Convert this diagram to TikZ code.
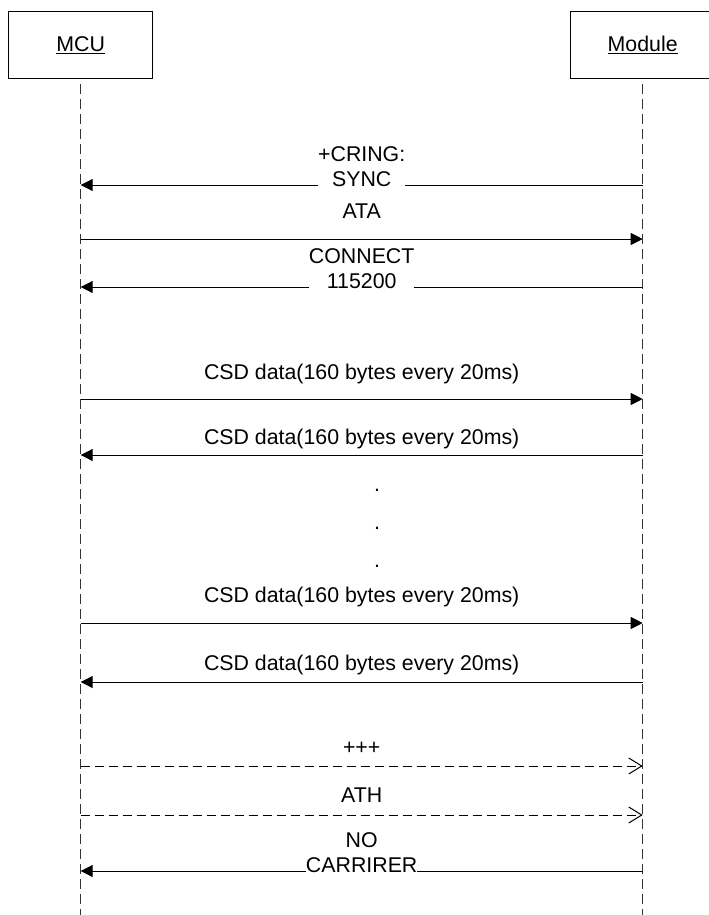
\documentclass[tikz,border=0pt]{standalone}
\usepackage{fontspec}
\setmainfont{Liberation Sans}
\usetikzlibrary{arrows.meta}

\begin{document}
\begin{tikzpicture}[x=0.75pt, y=-0.75pt, font=\fontsize{16}{19}\selectfont,
  obj/.style={draw, line width=0.75pt, minimum width=108pt, minimum height=50.5pt, inner sep=0pt},
  life/.style={draw=black!80, line width=0.75pt, dash pattern=on 7.5pt off 3.75pt, dash phase=7.5pt},
  sig/.style={-{Triangle[length=9pt,width=9pt]}, line width=0.75pt},
  brk/.style={-{Straight Barb[length=9.75pt,width=12pt]}, line width=0.75pt, dash pattern=on 7pt off 3.5pt},
  lbl/.style={anchor=base, inner sep=0pt},
  ovl/.style={anchor=south, align=center, inner sep=0pt, fill=white, text depth=0pt, yshift=-1.5pt}]
  \useasboundingbox (0,0) rectangle (708,915);
  \node[obj] (mcu) at (80.7,45)  {\underline{MCU}};
  \node[obj] (mod) at (642.7,45) {\underline{Module}};
  \coordinate (bot) at (0,915);
  \draw[life] (mcu.south) -- (mcu.south |- bot);
  \draw[life] (mod.south) -- (mod.south |- bot);
  % message levels on the MCU lifeline
  \coordinate (m1) at (80.7,185);
  \coordinate (m2) at (80.7,239);
  \coordinate (m3) at (80.7,287);
  \coordinate (m4) at (80.7,399);
  \coordinate (m5) at (80.7,455);
  \coordinate (m6) at (80.7,623);
  \coordinate (m7) at (80.7,682);
  \coordinate (m8) at (80.7,766);
  \coordinate (m9) at (80.7,815);
  \coordinate (m10) at (80.7,871);
  \draw[sig] (m1 -| mod) -- (m1) node[midway, ovl] (cring) {+CRING:\\SYNC};
  \draw[sig] (m2) -- (m2 -| mod) node[midway, lbl, yshift=15.4pt] (ata) {ATA};
  \draw[sig] (m3 -| mod) -- (m3) node[midway, ovl] (conn) {CONNECT\\115200};
  \draw[sig] (m4) -- (m4 -| mod) node[midway, lbl, yshift=15pt] (csdA) {CSD data(160 bytes every 20ms)};
  \draw[sig] (m5 -| mod) -- (m5) node[midway, lbl, yshift=8.25pt] (csdB) {CSD data(160 bytes every 20ms)};
  \foreach \k in {0,1,2}
    \node[lbl] (dot\k) at (377,491+38*\k) {.};
  \draw[sig] (m6) -- (m6 -| mod) node[midway, lbl, yshift=15.75pt] (csdC) {CSD data(160 bytes every 20ms)};
  \draw[sig] (m7 -| mod) -- (m7) node[midway, lbl, yshift=8.75pt] (csdD) {CSD data(160 bytes every 20ms)};
  \draw[brk] (m8) -- (m8 -| mod) node[midway, lbl, yshift=8.5pt] (esc) {+++};
  \draw[brk] (m9) -- (m9 -| mod) node[midway, lbl, yshift=9.75pt] (ath) {ATH};
  \draw[sig] (m10 -| mod) -- (m10) node[midway, ovl] (nocar) {NO\\CARRIRER};
\end{tikzpicture}
\end{document}
